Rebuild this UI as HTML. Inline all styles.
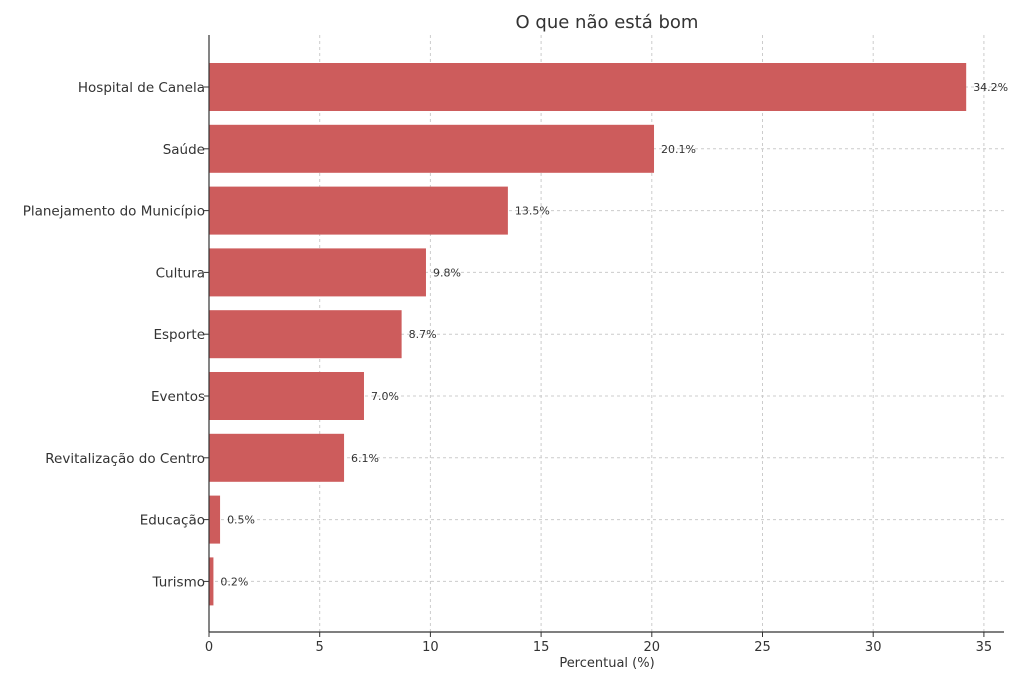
<!DOCTYPE html>
<html><head><meta charset="utf-8"><style>
body{margin:0;background:#fff;font-family:"Liberation Sans","DejaVu Sans",sans-serif;}
svg text{font-family:"DejaVu Sans","Liberation Sans",sans-serif;fill:#333;}
</style></head><body>
<svg id="chart" width="1024" height="682" xmlns="http://www.w3.org/2000/svg">
<text x="607" y="28" text-anchor="middle" font-size="18">O que não está bom</text>
<g id="grid"></g><g id="bars"></g><g id="axes"></g>
<text x="607" y="667" text-anchor="middle" font-size="13">Percentual (%)</text>
</svg>
<script>
const categories=["Hospital de Canela","Saúde","Planejamento do Município","Cultura","Esporte","Eventos","Revitalização do Centro","Educação","Turismo"];
const values=[34.2,20.1,13.5,9.8,8.7,7.0,6.1,0.5,0.2];
const ticks=[0,5,10,15,20,25,30,35];
const NS="http://www.w3.org/2000/svg";
const x0=209,pxPerUnit=22.14,plotTop=35,plotBottom=632,plotRight=1004,step=61.8,firstY=87,barH=48;
const xs=v=>x0+v*pxPerUnit;
const ys=i=>firstY+i*step;
function mk(tag,attrs,parent,text){const e=document.createElementNS(NS,tag);for(const k in attrs)e.setAttribute(k,attrs[k]);if(text!==undefined)e.textContent=text;document.getElementById(parent).appendChild(e);return e;}
ticks.forEach(t=>{
 const g=mk('line',{x1:xs(t),x2:xs(t),y1:plotTop,y2:plotBottom,stroke:'#ccc','stroke-dasharray':'3,3'},'grid');
 
 
 const tk=mk('line',{x1:xs(t),x2:xs(t),y1:plotBottom,y2:plotBottom+5,stroke:'#333'},'axes');
 
 
 const tl=mk('text',{x:xs(t),y:plotBottom+19,'text-anchor':'middle','font-size':'13'},'axes',String(t));
 
 
});
categories.forEach((c,i)=>{
 const y=ys(i);
 const g=mk('line',{x1:x0,x2:plotRight,y1:y,y2:y,stroke:'#ccc','stroke-dasharray':'3,3'},'grid');
 
 
 const b=mk('rect',{x:x0,y:y-barH/2,width:xs(values[i])-x0,height:barH,fill:'#cd5c5c'},'bars');
 
 
 const v=mk('text',{x:xs(values[i])+7,y:y+4,'font-size':'11'},'bars',values[i].toFixed(1)+'%');
 
 
 const tk=mk('line',{x1:x0-5,x2:x0,y1:y,y2:y,stroke:'#333'},'axes');
 
 
 const l=mk('text',{x:x0-4,y:y+5,'text-anchor':'end','font-size':'13.5'},'axes',c);
 
 
});
const ax=mk('line',{x1:x0,x2:x0,y1:plotTop,y2:plotBottom,stroke:'#333','stroke-width':1.2},'axes');


const bx=mk('line',{x1:x0,x2:plotRight,y1:plotBottom,y2:plotBottom,stroke:'#333','stroke-width':1.2},'axes');


</script>
</body></html>
